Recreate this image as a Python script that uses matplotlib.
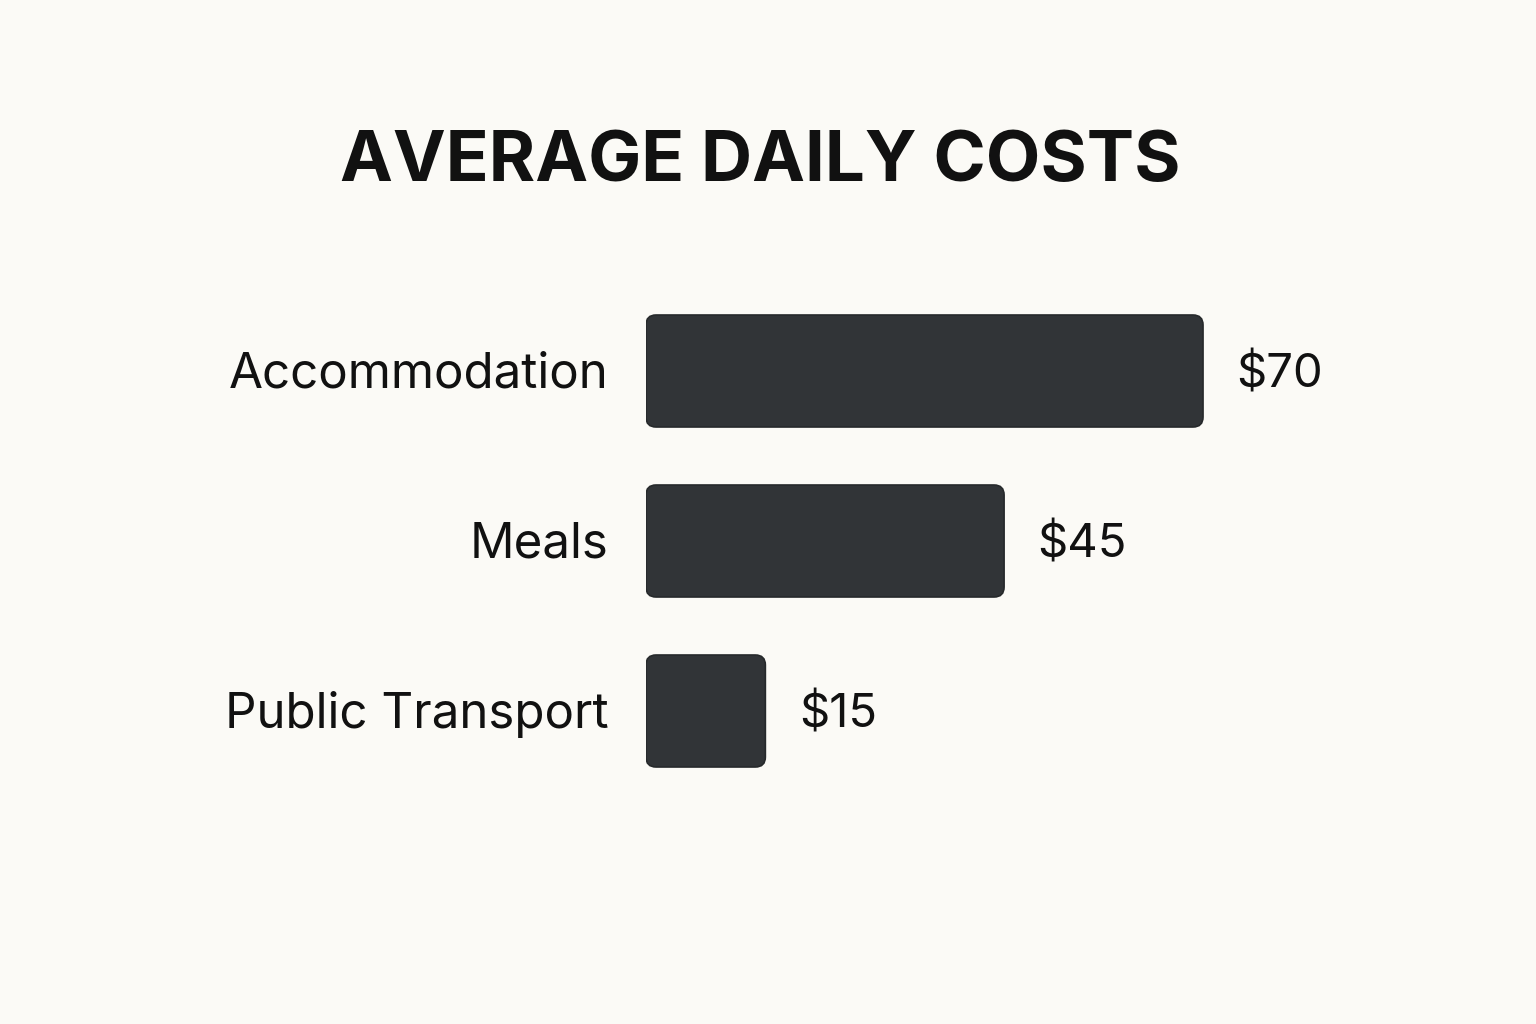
import matplotlib.pyplot as plt
from matplotlib.patches import FancyBboxPatch

# data
categories = ['Accommodation', 'Meals', 'Public Transport']
costs = [70, 45, 15]
value_labels = ['$70', '$45', '$15']

BG = '#fbfaf6'
BAR = '#313437'

fig = plt.figure(figsize=(15.36, 10.24), dpi=100, facecolor=BG)
# axes laid out in pixels: bars start at x=646, rows 170 px apart
ax = fig.add_axes([646/1536, 1 - 796/1024, 636.6/1536, 510/1024])
ax.set_facecolor('none')
ax.set_xlim(0, 80)
ax.set_ylim(2.5, -0.5)
ax.axis('off')

px_x = 636.6/80      # pixels per x unit
px_y = 170.0         # pixels per y unit
radius = 10/px_x
h = 112/170

for i, (cat, v, lab) in enumerate(zip(categories, costs, value_labels)):
    box = FancyBboxPatch((0, i - h/2), v, h,
                         boxstyle=f'round,pad=0,rounding_size={radius}',
                         mutation_aspect=px_x/px_y,
                         facecolor=BAR, edgecolor='#26292b', linewidth=1.2)
    ax.add_patch(box)
    ax.annotate(cat, (0, i), xytext=(-27, -12), textcoords='offset points',
                ha='right', va='baseline', fontsize=35.5, family='Inter',
                color='#111111')
    ax.annotate(lab, (v, i), xytext=(24, -12), textcoords='offset points',
                ha='left', va='baseline', fontsize=34, family='Inter',
                color='#111111')

fig.text(760/1536, 1 - 163/1024, 'AVERAGE DAILY COSTS', ha='center', va='center',
         fontsize=51, fontweight='bold', family='Inter', color='#111111')

fig.savefig('out.png', dpi=100, facecolor=BG)
